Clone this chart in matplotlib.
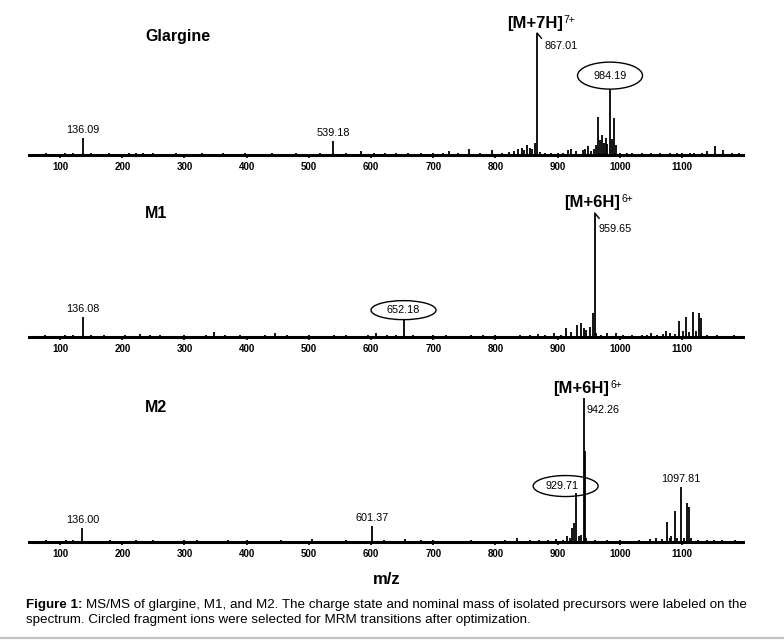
import matplotlib
matplotlib.use('Agg')
import matplotlib.pyplot as plt
from matplotlib.patches import Ellipse
from matplotlib.lines import Line2D

plt.rcParams['font.family'] = ['Liberation Sans', 'DejaVu Sans']

# ---------------- data ----------------
x_ticks = [100, 200, 300, 400, 500, 600, 700, 800, 900, 1000, 1100]
x_range = (50, 1198)

names = ['Glargine', 'M1', 'M2']

glargine_mz = [62, 78, 95, 108, 120, 136.09, 150, 163, 178, 195, 210, 222, 234, 250, 268, 287, 305, 328, 345, 362,
               380, 398, 420, 440, 462, 480, 500, 518, 539.18, 560, 584, 605, 622, 640, 660, 680, 700, 715, 726,
               740, 758, 775, 795, 810, 822, 830, 836, 842, 846, 851, 855, 859, 863, 867.01, 872, 880, 890, 900,
               908, 916, 921, 930, 940, 944, 948, 953, 958, 962, 964.7, 968, 971, 974, 977, 980, 984.19, 987,
               990.5, 993, 1000, 1012, 1020, 1035, 1050, 1065, 1080, 1092, 1100, 1112, 1120, 1132, 1140, 1153.6,
               1166, 1180, 1192]
glargine_int = [1, 1.5, 1, 1.5, 2, 14, 1.5, 1, 1.5, 1, 2, 2, 1.5, 1.5, 1, 1.5, 1, 2, 1, 1.5,
                1, 1.5, 1, 1.5, 1, 1.5, 1, 1.5, 11.5, 1.5, 3, 1.5, 2, 1.5, 2, 1.5, 2, 2, 3,
                2, 5, 2, 4.5, 2, 2.5, 3, 5, 6, 4, 8, 6, 5, 10, 100, 2.5, 2, 1.5, 2,
                2, 4, 5, 3, 4, 5, 7, 3, 5, 8, 31, 12, 16, 10, 14, 9, 54, 13,
                30, 8, 2, 1.5, 2, 1.5, 2, 1.5, 1.5, 2, 2, 1.5, 2, 2, 3, 7,
                4, 2, 1.5]

m1_mz = [60, 75, 92, 108, 120, 136.08, 150, 170, 190, 205, 228, 245, 260, 280, 300, 318, 335, 348, 365, 390,
         410, 430, 446, 465, 485, 500, 520, 540, 560, 580, 595, 608, 625, 640, 652.18, 668, 685, 700, 720, 740,
         760, 780, 800, 820, 840, 855, 868, 880, 894, 905, 913, 922, 931, 938, 943, 946, 952, 956.5, 959.65,
         962, 970, 979, 993.6, 1005, 1020, 1035, 1043.6, 1050, 1060, 1070, 1074, 1081, 1088, 1094.6, 1101,
         1107, 1111.7, 1117.6, 1122, 1127, 1130.5, 1140, 1156, 1170, 1183, 1195]
m1_int = [1, 1.5, 1, 1.5, 2, 16, 1.5, 1.5, 1, 1.5, 2.5, 1.5, 1.5, 1, 1.5, 1, 1.5, 4, 1.5, 1.5,
          1, 1.5, 3, 1.5, 1, 1.5, 1, 1.5, 1.5, 1, 1.5, 3, 2, 1.5, 14, 1.5, 1, 1.5, 1.5, 1,
          2, 1.5, 1.5, 1, 1.5, 1.5, 2.5, 1.5, 3, 2, 7, 4, 9.5, 11, 7, 6, 8, 19, 100,
          3, 2, 3, 3, 1.5, 1.5, 2, 2, 3, 2, 2.5, 5, 3, 2.5, 13, 5,
          16, 4, 20, 5, 19, 15, 1.5, 1.5, 1, 1.5, 1]

m2_mz = [60, 78, 95, 110, 120, 136.00, 152, 180, 200, 222, 250, 275, 300, 320, 345, 370, 400, 425, 455, 480,
         505, 530, 560, 580, 601.37, 620, 640, 655, 680, 700, 725, 760, 790, 815, 835, 855, 870, 885, 897,
         908, 915.8, 920, 923.8, 926.5, 929.71, 934, 938, 942.26, 943.6, 946, 960, 980, 1000, 1015, 1030,
         1048, 1058, 1068, 1075.8, 1080, 1083, 1089, 1092, 1097.81, 1103, 1108.5, 1110.5, 1114, 1125, 1140,
         1152, 1165, 1175, 1185, 1195]
m2_int = [1, 1.5, 1, 1.5, 1.5, 10, 1, 1.5, 1, 1.5, 1.5, 1, 1.5, 1.5, 1, 1.5, 1.5, 1, 1.5, 1,
          2, 1, 1.5, 1, 11, 1.5, 1, 2, 1.5, 1.5, 1, 1.5, 1, 1.5, 2.5, 1.5, 1.5, 1.5, 2,
          1.5, 4, 3, 10, 13, 34, 4, 5, 100, 63, 3, 1.5, 1.5, 1.5, 1, 1.5,
          2, 3, 2, 14, 3, 4, 21.7, 3, 38, 3, 27, 24, 3, 1.5, 1.5,
          1.5, 1.5, 1, 1.5, 1]

spectra_mz = [glargine_mz, m1_mz, m2_mz]
spectra_int = [glargine_int, m1_int, m2_int]

# labelled peaks: (m/z, text)
plain_labels = [[(136.09, '136.09'), (539.18, '539.18')],
                [(136.08, '136.08')],
                [(136.00, '136.00'), (601.37, '601.37'), (1097.81, '1097.81')]]
precursor_peak = [867.01, 959.65, 942.26]
precursor_text = [('[M+7H]', '7+'), ('[M+6H]', '6+'), ('[M+6H]', '6+')]
circled_peak = [984.19, 652.18, 929.71]

# ---------------- layout (pixels) ----------------
W, H = 784, 644
AX_L, AX_R = 29, 743
baseline_px = [155, 337, 542]
peak_px = [33, 213, 398]
axtop_px = [5, 190, 375]
name_pos = [(145, 36), (145, 213), (145, 408)]
# ellipse: dx, dy (center above peak top), width, height, text dx  (px)
ell_geom = [(0, 13.5, 65, 27, 0), (0, 9.5, 65, 19, 0), (-10.5, 7, 65, 21, -4)]
hook = [True, True, False]
prec_lbl_off = [(7, -13.4), (4, -16), (3, -12.4)]

fig = plt.figure(figsize=(W / 100, H / 100), dpi=100)
P = 0.72  # points per pixel


def off(dx, dy):
    return (dx * P, dy * P)


px_per_mz = (AX_R - AX_L) / (x_range[1] - x_range[0])

for k in range(3):
    b, pk, tp = baseline_px[k], peak_px[k], axtop_px[k]
    ax = fig.add_axes([AX_L / W, 1 - b / H, (AX_R - AX_L) / W, (b - tp) / H])
    ytop = 100.0 * (b - tp) / (b - pk)
    px_per_int = (b - pk) / 100.0
    ax.set_xlim(*x_range)
    ax.set_ylim(0, ytop)
    ax.vlines(spectra_mz[k], 0, spectra_int[k], color='black', lw=1.3)
    for s in ['top', 'right', 'left']:
        ax.spines[s].set_visible(False)
    ax.spines['bottom'].set_linewidth(2.2)
    ax.set_yticks([])
    ax.set_xticks(x_ticks)
    ax.set_xticklabels([str(t) for t in x_ticks])
    ax.tick_params(axis='x', length=2.5, width=1.2, pad=2.8, labelsize=7)
    for lbl in ax.get_xticklabels():
        lbl.set_fontweight('bold')
    ax.patch.set_alpha(0)

    lookup = dict(zip(spectra_mz[k], spectra_int[k]))

    for mz, txt in plain_labels[k]:
        y = lookup[mz]
        ax.annotate(txt, xy=(mz, y), xytext=off(0, 3), textcoords='offset points',
                    ha='center', va='bottom', fontsize=7.8, annotation_clip=False)

    # precursor
    mz = precursor_peak[k]
    y = lookup[mz]
    main, sup = precursor_text[k]
    ax.annotate(main, xy=(mz, y), xytext=off(25.5, 10), textcoords='offset points',
                ha='right', va='center', fontsize=12, fontweight='bold', annotation_clip=False)
    ax.annotate(sup, xy=(mz, y), xytext=off(26.5, 13.5), textcoords='offset points',
                ha='left', va='center', fontsize=7.5, annotation_clip=False)
    dx, dy = prec_lbl_off[k]
    ax.annotate(f'{mz:.2f}', xy=(mz, y), xytext=off(dx, dy), textcoords='offset points',
                ha='left', va='center', fontsize=7.8, annotation_clip=False)
    if hook[k]:
        ax.annotate('', xy=(mz, y), xytext=off(4.5, -5.5), textcoords='offset points',
                    arrowprops=dict(arrowstyle='-', lw=1.0, color='black', shrinkA=0, shrinkB=0),
                    annotation_clip=False)

    # circled fragment
    mz = circled_peak[k]
    y = lookup[mz]
    edx, edy, ew, eh, tdx = ell_geom[k]
    cx = mz + edx / px_per_mz
    cy = y + edy / px_per_int
    ax.add_patch(Ellipse((cx, cy), ew / px_per_mz, eh / px_per_int, fill=False,
                         lw=1.0, ec='black', clip_on=False))
    ax.text(cx + tdx / px_per_mz, cy, f'{mz:.2f}', ha='center', va='center', fontsize=7.8, clip_on=False)

    nx, ny = name_pos[k]
    fig.text(nx / W, 1 - ny / H, names[k], ha='left', va='center', fontsize=11.5, fontweight='bold')

fig.text(387 / W, 1 - 579 / H, 'm/z', ha='center', va='center', fontsize=12, fontweight='bold')

cap_x = 26
cap_size = 9.6
t1 = fig.text(cap_x / W, 1 - 605 / H, 'Figure 1:', ha='left', va='center', fontsize=cap_size, fontweight='bold')
fig.canvas.draw()
bb = t1.get_window_extent()
fig.text((bb.x1 + 3) / W, 1 - 605 / H,
         'MS/MS of glargine, M1, and M2. The charge state and nominal mass of isolated precursors were labeled on the',
         ha='left', va='center', fontsize=cap_size)
fig.text(cap_x / W, 1 - 620 / H,
         'spectrum. Circled fragment ions were selected for MRM transitions after optimization.',
         ha='left', va='center', fontsize=cap_size)

fig.add_artist(Line2D([0, 1], [1 - 638 / H, 1 - 638 / H], color='#c4c4c4', lw=1.6, transform=fig.transFigure))

fig.savefig('out.png', dpi=100)
